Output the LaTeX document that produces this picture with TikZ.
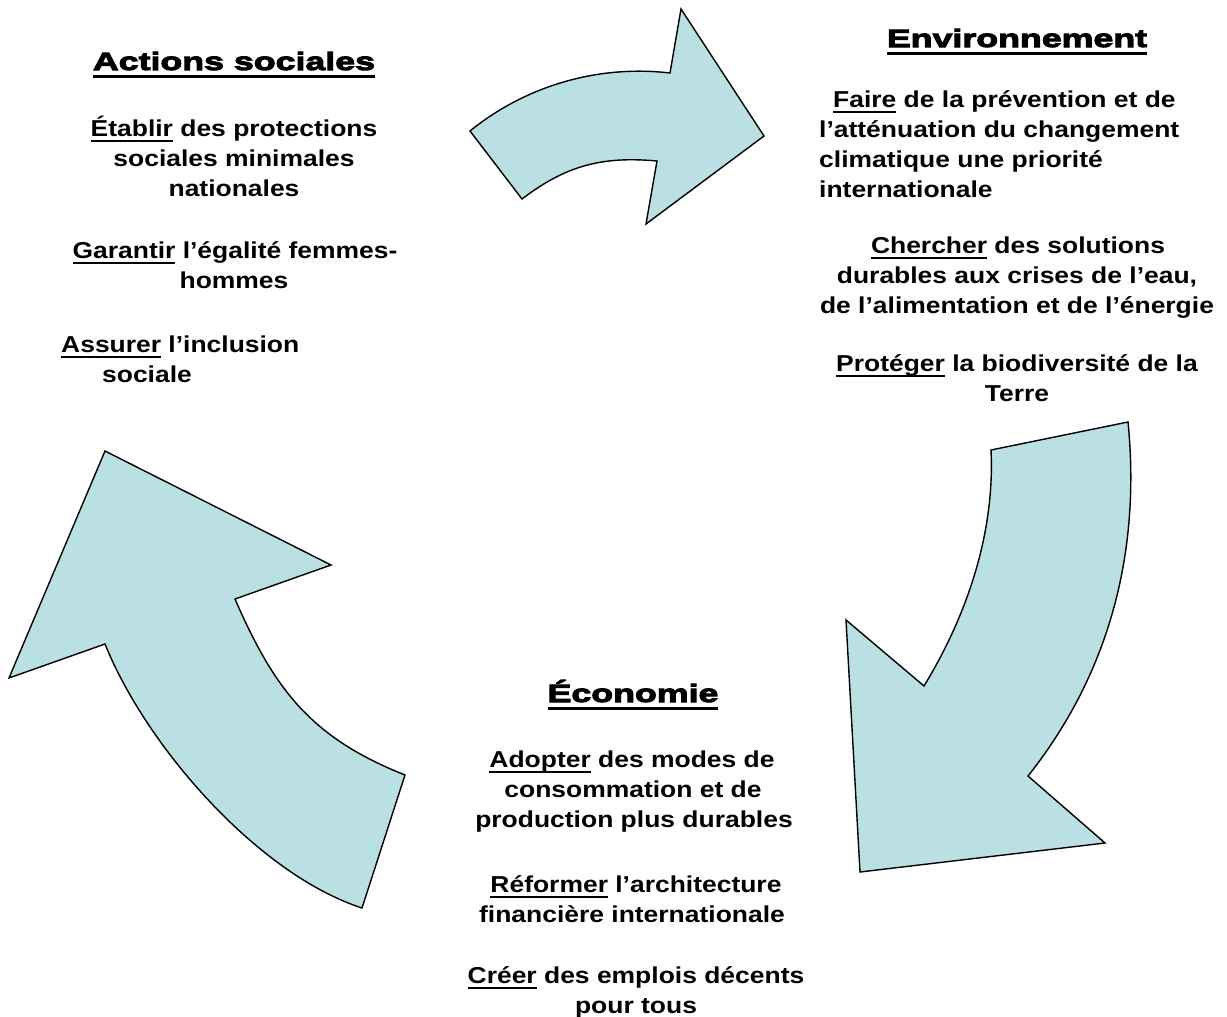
\documentclass[tikz,border=0pt]{standalone}
\usepackage{fontspec}
\newfontfamily\bodyfont[FakeStretch=1.15]{Liberation Sans Bold}
\newfontfamily\titlefont[FakeStretch=1.43,FakeBold=4]{Liberation Sans Bold}
\definecolor{arrowblue}{RGB}{186,224,227}
\newcommand\ulb[1]{\setbox0=\hbox{#1}\rlap{\rule[-6pt]{\wd0}{2pt}}\box0{}}
\newcommand\ult[1]{\setbox0=\hbox{#1}\rlap{\rule[-7.5pt]{\wd0}{2.5pt}}\box0{}}
\begin{document}
\begin{tikzpicture}[x=1pt,y=-1pt,
  arrowshape/.style={fill=arrowblue,draw=black,line width=1.4pt,line join=miter},
  ln/.style={anchor=base,inner sep=0pt,font=\bodyfont\fontsize{23}{30}\selectfont},
  lnl/.style={ln,anchor=base west},
  ttl/.style={anchor=base,inner sep=0pt,font=\titlefont\fontsize{25}{30}\selectfont}]
\useasboundingbox (0,0) rectangle (1227,1017);

% top arrow
\draw[arrowshape] (470,131) .. controls (525.9,85.6) and (598.5,64.6) .. (670,73)
  -- (681,9) -- (764,136) -- (646,224) -- (657,161)
  .. controls (602,156) and (566,165.5) .. (522,199) -- cycle;

% right arrow
\draw[arrowshape] (991,450) -- (1128,422)
  .. controls (1141,553) and (1109,674) .. (1028,776)
  -- (1105,843) -- (860,872) -- (846,620) -- (924,686)
  .. controls (967,615.5) and (995,533) .. (991,450) -- cycle;

% left arrow
\draw[arrowshape] (105,451) -- (331,565) -- (235,599)
  .. controls (275,691) and (312,738) .. (405,775)
  -- (362,908)
  .. controls (257.5,874) and (146,746) .. (105,644)
  -- (9,678) -- cycle;

% Actions sociales
\node[ttl] (t1) at (234,70) {\ult{Actions sociales}};
\node[ln] (a1) at (234,136) {\ulb{Établir} des protections};
\node[ln] (a2) at (234,166) {sociales minimales};
\node[ln] (a3) at (234,196) {nationales};
\node[ln] (a4) at (235,258) {\ulb{Garantir} l’égalité femmes-};
\node[ln] (a5) at (234,288) {hommes};
\node[lnl] (a6) at (61,352) {\ulb{Assurer} l’inclusion};
\node[ln] (a7) at (147,382) {sociale};

% Environnement
\node[ttl] (t2) at (1017,47) {\ult{Environnement}};
\node[lnl] (e1) at (833,107) {\ulb{Faire} de la prévention et de};
\node[lnl] (e2) at (819,137) {l’atténuation du changement};
\node[lnl] (e3) at (819,167) {climatique une priorité};
\node[lnl] (e4) at (819,197) {internationale};
\node[ln] (e5) at (1018,253) {\ulb{Chercher} des solutions};
\node[ln] (e6) at (1017,283) {durables aux crises de l’eau,};
\node[ln] (e7) at (1017,313) {de l’alimentation et de l’énergie};
\node[ln] (e8) at (1017,371) {\ulb{Protéger} la biodiversité de la};
\node[ln] (e9) at (1017,401) {Terre};

% Economie
\node[ttl] (t3) at (633,702) {\ult{Économie}};
\node[ln] (c1) at (632,767) {\ulb{Adopter} des modes de};
\node[ln] (c2) at (633,797) {consommation et de};
\node[ln] (c3) at (634,827) {production plus durables};
\node[ln] (c4) at (636,892) {\ulb{Réformer} l’architecture};
\node[ln] (c5) at (632,922) {financière internationale};
\node[ln] (c6) at (636,983) {\ulb{Créer} des emplois décents};
\node[ln] (c7) at (636,1013) {pour tous};
\end{tikzpicture}
\end{document}
